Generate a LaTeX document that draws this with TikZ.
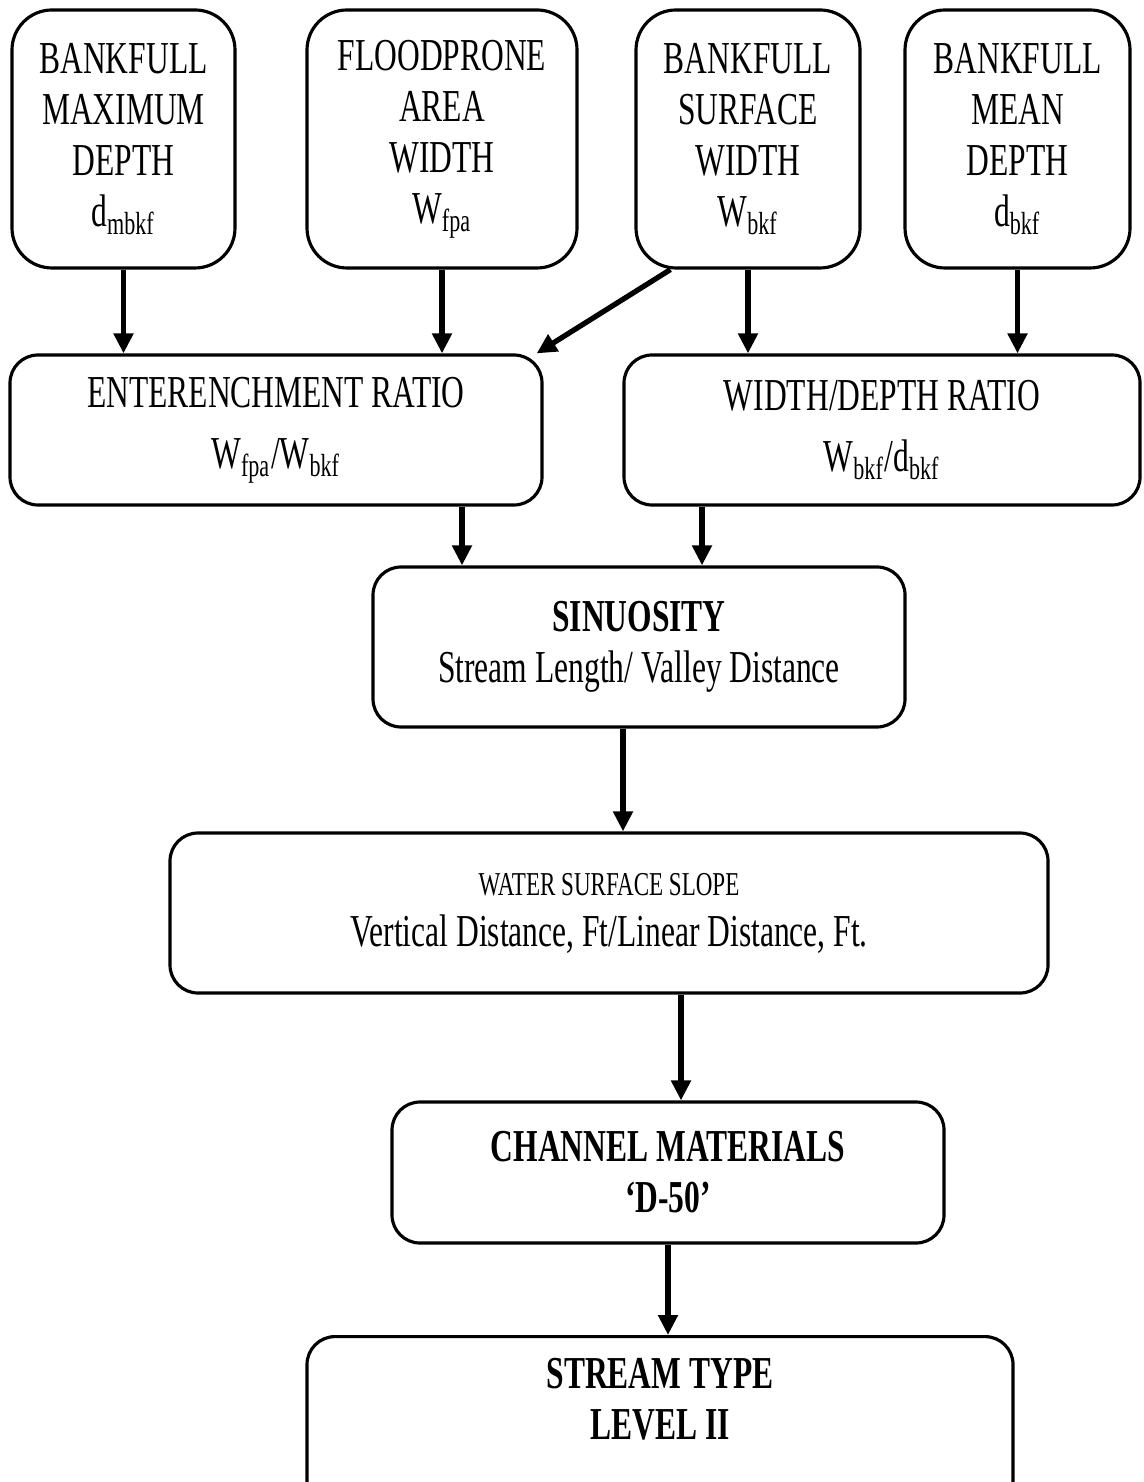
\documentclass[tikz,border=0pt]{standalone}
\usepackage{fontspec}
\setmainfont{Liberation Serif}[FakeStretch=0.69]
\usetikzlibrary{arrows.meta,positioning}
\begin{document}
\begin{tikzpicture}[
		box/.style={draw,line width=0.9pt,rounded corners=0.28cm,align=center,font=\fontsize{13}{14.5}\selectfont},
		topbox/.style={box,rounded corners=0.4cm,minimum height=2.58cm},
		arr/.style={line width=1.5pt,-{Triangle[length=0.2cm,width=0.19cm]}}
	]
	\useasboundingbox(0,0)rectangle(11.44,-14.82);
	\node[topbox,minimum width=2.23cm](dmax)at(1.235,-1.39){BANKFULL\\MAXIMUM\\DEPTH\\d\textsubscript{mbkf}};
	\node[topbox,minimum width=2.70cm](wfpa)at(4.42,-1.39){FLOODPRONE\\AREA\\WIDTH\\W\textsubscript{fpa}};
	\node[topbox,minimum width=2.24cm](wbkf)at(7.48,-1.39){BANKFULL\\SURFACE\\WIDTH\\W\textsubscript{bkf}};
	\node[topbox,minimum width=2.25cm](dbkf)at(10.175,-1.39){BANKFULL\\MEAN\\DEPTH\\d\textsubscript{bkf}};
	\node[box,minimum width=5.32cm,minimum height=1.50cm](ent)at(2.76,-4.30){ENTERENCHMENT RATIO\\[0.1cm]W\textsubscript{fpa}/W\textsubscript{bkf}};
	\node[box,minimum width=5.16cm,minimum height=1.50cm](wd)at(8.82,-4.30){WIDTH/DEPTH RATIO\\[0.1cm]W\textsubscript{bkf}/d\textsubscript{bkf}};
	\node[box,minimum width=5.32cm,minimum height=1.60cm](sin)at(6.39,-6.47){\textbf{SINUOSITY}\\Stream Length/ Valley Distance};
	\node[box,minimum width=8.78cm,minimum height=1.60cm](wss)at(6.09,-9.13){{\fontsize{9.5}{12}\selectfont WATER SURFACE SLOPE}\\Vertical Distance, Ft/Linear Distance, Ft.};
	\node[box,minimum width=5.52cm,minimum height=1.41cm](cm)at(6.68,-11.725){\textbf{CHANNEL MATERIALS}\\\textbf{‘D-50’}};
	\node[box,anchor=north,minimum width=7.06cm,inner ysep=0.22cm,text depth=1.1cm](st)at(6.60,-13.35){\textbf{STREAM TYPE}\\\textbf{LEVEL II}};
	% arrows
	\draw[arr](dmax.south)--(dmax.south|-ent.north);
	\draw[arr](wfpa.south)--(wfpa.south|-ent.north);
	\draw[arr]([xshift=0.36cm]wbkf.south west)--([xshift=-0.07cm]ent.north east);
	\draw[arr](wbkf.south)--(wbkf.south|-wd.north);
	\draw[arr](dbkf.south)--(dbkf.south|-wd.north);
	\draw[arr]([xshift=1.86cm]ent.south)--([xshift=1.86cm]ent.south|-sin.north);
	\draw[arr]([xshift=-1.80cm]wd.south)--([xshift=-1.80cm]wd.south|-sin.north);
	\draw[arr]([xshift=-0.16cm]sin.south)--([xshift=-0.16cm]sin.south|-wss.north);
	\draw[arr]([xshift=0.72cm]wss.south)--([xshift=0.72cm]wss.south|-cm.north);
	\draw[arr](cm.south)--(cm.south|-st.north);
\end{tikzpicture}
\end{document}
